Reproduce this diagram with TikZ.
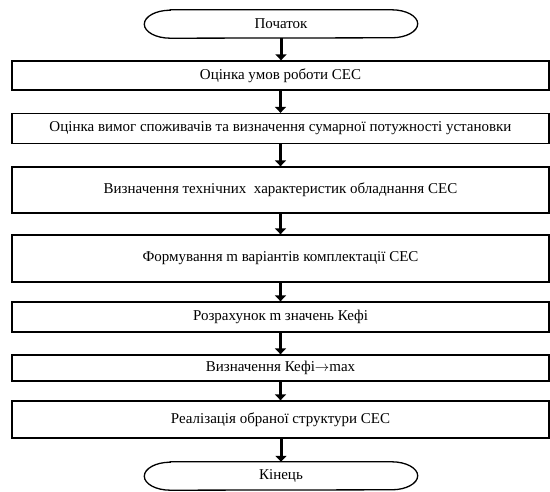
\documentclass[tikz,border=0pt]{standalone}
\usepackage{fontspec}
\setmainfont{Liberation Serif}
\usetikzlibrary{arrows.meta}

\tikzset{
  stepbox/.style={draw, line width=1.3pt, minimum width=537pt, inner sep=0pt},
  term/.style={minimum width=221pt, minimum height=28pt, inner sep=0pt},
  flow/.style={line width=3pt, -{Triangle[width=11pt,length=6pt]}}
}

\begin{document}
\begin{tikzpicture}[x=1pt, y=-1pt, font=\fontsize{15}{17}\selectfont]
\useasboundingbox (0,0) rectangle (550,492);
\node[term] (start) at (281,24) {Початок};
\draw[line width=1.3pt] (start.north west) -- (start.north east)
  arc[start angle=90, end angle=-90, x radius=26pt, y radius=14pt]
  -- (start.south west)
  arc[start angle=270, end angle=90, x radius=26pt, y radius=14pt] -- cycle;
\node[stepbox, minimum height=29pt] (b1) at (280.5,75.5) {Оцінка умов роботи СЕС};
\node[stepbox, minimum height=30pt] (b2) at (280.5,128.5) {Оцінка вимог споживачів та визначення сумарної потужності установки};
\node[stepbox, minimum height=46pt] (b3) at (280.5,190) {Визначення технічних~ характеристик обладнання СЕС};
\node[stepbox, minimum height=47pt] (b4) at (280.5,258.5) {Формування m варіантів комплектації СЕС};
\node[stepbox, minimum height=30pt] (b5) at (280.5,317) {Розрахунок m значень Кефі};
\node[stepbox, minimum height=26pt] (b6) at (280.5,368) {Визначення Кефі$\rightarrow$max};
\node[stepbox, minimum height=37pt] (b7) at (280.5,419.5) {Реалізація обраної структури СЕС};
\node[term] (stop) at (281,476) {Кінець};
\draw[line width=1.3pt] (stop.north west) -- (stop.north east)
  arc[start angle=90, end angle=-90, x radius=26pt, y radius=14pt]
  -- (stop.south west)
  arc[start angle=270, end angle=90, x radius=26pt, y radius=14pt] -- cycle;
\draw[flow] (start.south) -- (start.south |- b1.north);
\draw[flow] (b1) -- (b2);
\draw[flow] (b2) -- (b3);
\draw[flow] (b3) -- (b4);
\draw[flow] (b4) -- (b5);
\draw[flow] (b5) -- (b6);
\draw[flow] (b6) -- (b7);
\draw[flow] (b7.south) -- (b7.south -| stop.north) -- (stop.north);
\end{tikzpicture}
\end{document}
